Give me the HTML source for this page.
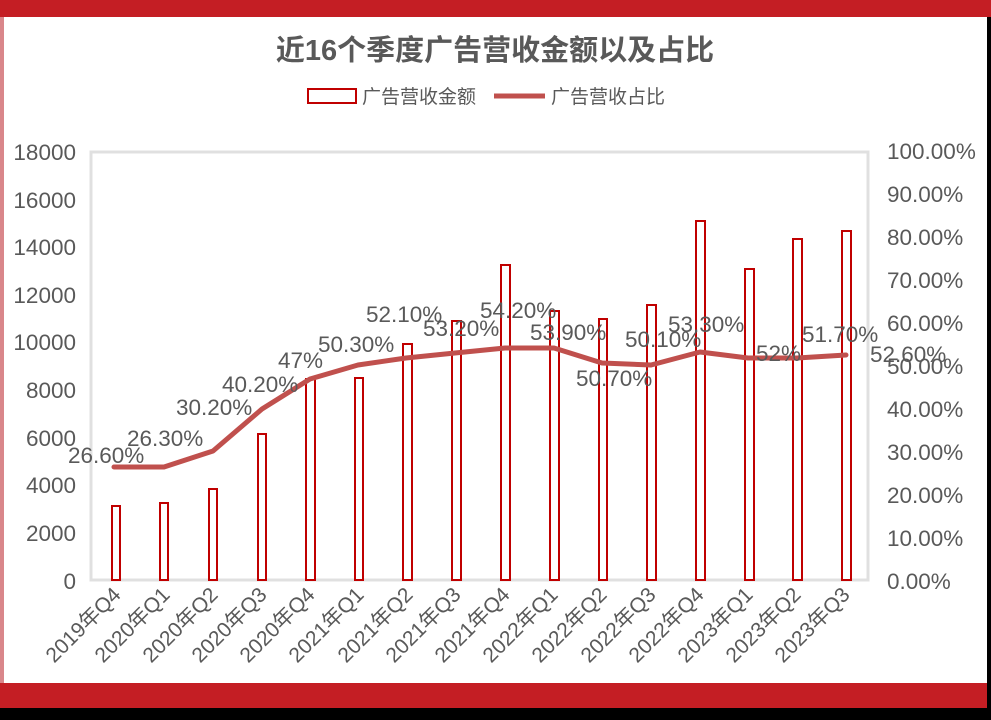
<!DOCTYPE html>
<html><head><meta charset="utf-8"><style>
html,body{margin:0;padding:0;background:#000;}
svg{display:block;}
text{font-family:"Liberation Sans","Noto Sans CJK SC",sans-serif;fill:#595959;}
</style></head><body>
<svg width="991" height="720" viewBox="0 0 991 720" xmlns="http://www.w3.org/2000/svg">
<rect x="0" y="0" width="987" height="708" fill="#fff"/>
<rect x="0" y="0" width="991" height="17" fill="#c41e24"/>
<rect x="0" y="17" width="4" height="666" fill="#d9868a"/>
<rect x="0" y="683" width="987" height="25" fill="#c41e24"/>
<rect x="0" y="708" width="991" height="12" fill="#000"/>
<rect x="987" y="17" width="4" height="691" fill="#000"/>
<text x="495" y="60" font-size="29" font-weight="bold" text-anchor="middle" fill="#595959">近16个季度广告营收金额以及占比</text>
<rect x="308" y="89" width="48" height="14" fill="#fff" stroke="#c00000" stroke-width="2"/>
<text x="362" y="103" font-size="19">广告营收金额</text>
<line x1="494" y1="96" x2="545" y2="96" stroke="#c0504d" stroke-width="5"/>
<text x="551" y="103" font-size="19">广告营收占比</text>
<rect x="91" y="152" width="777" height="428" fill="#fff" stroke="#e0e0e0" stroke-width="3"/>
<g font-size="22.5" text-anchor="end">
<text x="76" y="160">18000</text><text x="76" y="208">16000</text><text x="76" y="255">14000</text><text x="76" y="303">12000</text><text x="76" y="350">10000</text><text x="76" y="398">8000</text><text x="76" y="446">6000</text><text x="76" y="493">4000</text><text x="76" y="541">2000</text><text x="76" y="589">0</text>
</g>
<g font-size="22.5">
<text x="887" y="159">100.00%</text><text x="887" y="202">90.00%</text><text x="887" y="245">80.00%</text><text x="887" y="288">70.00%</text><text x="887" y="331">60.00%</text><text x="887" y="374">50.00%</text><text x="887" y="417">40.00%</text><text x="887" y="460">30.00%</text><text x="887" y="503">20.00%</text><text x="887" y="546">10.00%</text><text x="887" y="589">0.00%</text>
</g>
<g fill="#fff" stroke="#c00000" stroke-width="2">
<rect x="112" y="506" width="8" height="74"/>
<rect x="160" y="503" width="8" height="77"/>
<rect x="209" y="489" width="8" height="91"/>
<rect x="258" y="434" width="8" height="146"/>
<rect x="306" y="379" width="9" height="201"/>
<rect x="355" y="378" width="8" height="202"/>
<rect x="403" y="344" width="9" height="236"/>
<rect x="452" y="321" width="9" height="259"/>
<rect x="501" y="265" width="9" height="315"/>
<rect x="550" y="311" width="9" height="269"/>
<rect x="599" y="319" width="8" height="261"/>
<rect x="647" y="305" width="9" height="275"/>
<rect x="696" y="221" width="9" height="359"/>
<rect x="745" y="269" width="9" height="311"/>
<rect x="793" y="239" width="9" height="341"/>
<rect x="842" y="231" width="9" height="349"/>
</g>
<polyline fill="none" stroke="#c0504d" stroke-width="5" stroke-linejoin="round" stroke-linecap="round" points="114,467 164,467 213,451 262,409 310,379 358,365 406,358 455,353 505,348 554,348 602,363 651,365 700,352 748,358 797,358 846,355"/>
<g font-size="22.5" fill="#595959">
<text x="68" y="463">26.60%</text>
<text x="127" y="446">26.30%</text>
<text x="176" y="415">30.20%</text>
<text x="222" y="392">40.20%</text>
<text x="278" y="368">47%</text>
<text x="318" y="352">50.30%</text>
<text x="366" y="322">52.10%</text>
<text x="423" y="336">53.20%</text>
<text x="480" y="318">54.20%</text>
<text x="530" y="340">53.90%</text>
<text x="576" y="386">50.70%</text>
<text x="625" y="347">50.10%</text>
<text x="668" y="332">53.30%</text>
<text x="756" y="361">52%</text>
<text x="802" y="342">51.70%</text>
<text x="870" y="362">52.60%</text>
</g>
<g font-size="21" text-anchor="end">
<text transform="translate(122,596) rotate(-45)">2019年Q4</text>
<text transform="translate(171,596) rotate(-45)">2020年Q1</text>
<text transform="translate(219,596) rotate(-45)">2020年Q2</text>
<text transform="translate(268,596) rotate(-45)">2020年Q3</text>
<text transform="translate(316,596) rotate(-45)">2020年Q4</text>
<text transform="translate(365,596) rotate(-45)">2021年Q1</text>
<text transform="translate(414,596) rotate(-45)">2021年Q2</text>
<text transform="translate(462,596) rotate(-45)">2021年Q3</text>
<text transform="translate(511,596) rotate(-45)">2021年Q4</text>
<text transform="translate(559,596) rotate(-45)">2022年Q1</text>
<text transform="translate(608,596) rotate(-45)">2022年Q2</text>
<text transform="translate(657,596) rotate(-45)">2022年Q3</text>
<text transform="translate(705,596) rotate(-45)">2022年Q4</text>
<text transform="translate(754,596) rotate(-45)">2023年Q1</text>
<text transform="translate(802,596) rotate(-45)">2023年Q2</text>
<text transform="translate(851,596) rotate(-45)">2023年Q3</text>
</g>
</svg>
</body></html>
